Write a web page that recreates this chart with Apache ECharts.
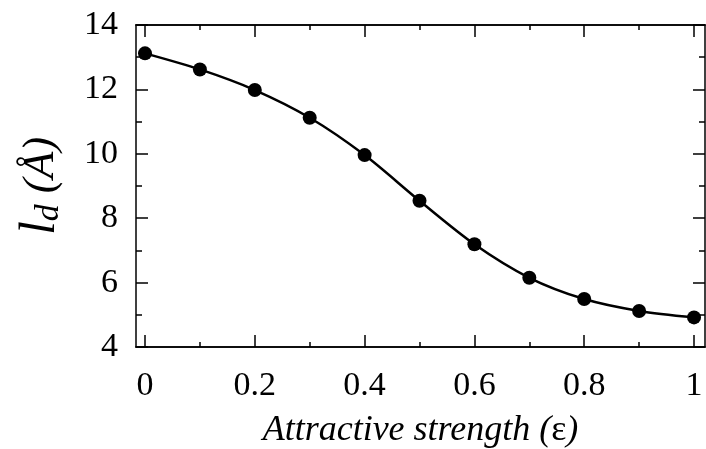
<!DOCTYPE html>
<html>
<head>
<meta charset="utf-8">
<script src="https://cdn.jsdelivr.net/npm/echarts@6/dist/echarts.min.js"></script>
<style>
  html, body { margin: 0; padding: 0; background: #fff; }
  #main { width: 706px; height: 449px; }
</style>
</head>
<body>
<div id="main"></div>
<script>
// attractive strength (x) and l_d in Angstrom (y)
var strength = [0, 0.1, 0.2, 0.3, 0.4, 0.5, 0.6, 0.7, 0.8, 0.9, 1.0];
var ld = [13.12, 12.62, 11.98, 11.12, 9.96, 8.54, 7.19, 6.15, 5.49, 5.12, 4.92];
var xMajor = [0, 0.2, 0.4, 0.6, 0.8, 1];
var xMinor = [0.1, 0.3, 0.5, 0.7, 0.9];

var points = [];
for (var i = 0; i < strength.length; i++) {
    points.push([strength[i], ld[i]]);
}

var font = '"Liberation Serif", "DejaVu Serif", serif';
var xMin = -0.0164, xMax = 1.02;

function xAx(pos, ticks, len, show) {
    return {
        type: 'value', position: pos, min: xMin, max: xMax,
        axisLine: { show: true, onZero: false, lineStyle: { color: '#000', width: 1.5 } },
        axisTick: { show: true, inside: true, length: len, customValues: ticks, lineStyle: { color: '#000', width: 1.5 } },
        axisLabel: show ? {
            customValues: xMajor, margin: 22, color: '#000', fontFamily: font, fontSize: 34,
            formatter: function (v) { return String(+v.toFixed(1)); }
        } : { show: false },
        splitLine: { show: false }
    };
}

function yAx(pos, show) {
    return {
        type: 'value', position: pos, min: 4, max: 14, interval: 2,
        axisLine: { show: true, onZero: false, lineStyle: { color: '#000', width: 1.5 } },
        axisTick: { show: true, inside: true, length: 12, lineStyle: { color: '#000', width: 1.5 } },
        minorTick: { show: true, splitNumber: 2, length: 6, lineStyle: { color: '#000', width: 1.5 } },
        axisLabel: show ? { margin: 18, color: '#000', fontFamily: font, fontSize: 34 } : { show: false },
        splitLine: { show: false }
    };
}

var myChart = echarts.init(document.getElementById('main'));
var xBottom = xAx('bottom', xMajor, 12, true);
xBottom.name = '{i|Attractive strength (}{e|\u03b5}{i|)}';
xBottom.nameLocation = 'middle';
xBottom.nameGap = 66;
xBottom.nameTextStyle = {
    color: '#000', fontFamily: font, fontStyle: 'italic', fontSize: 36,
    rich: {
        i: { fontFamily: font, fontStyle: 'italic', fontSize: 36, color: '#000' },
        e: { fontFamily: font, fontStyle: 'normal', fontSize: 36, color: '#000' }
    }
};

var yLeft = yAx('left', true);
yLeft.name = '{l|l}{d|d}{p| (\u00c5)}';
yLeft.nameLocation = 'middle';
yLeft.nameRotate = 90;
yLeft.nameGap = 70;
yLeft.nameTextStyle = {
    color: '#000', fontFamily: font, fontStyle: 'italic',
    rich: {
        l: { fontFamily: font, fontStyle: 'italic', fontSize: 50, color: '#000' },
        d: { fontFamily: font, fontStyle: 'italic', fontSize: 34, color: '#000', verticalAlign: 'bottom', padding: [16, 0, 0, 0] },
        p: { fontFamily: font, fontStyle: 'italic', fontSize: 44, color: '#000' }
    }
};

var option = {
    animation: false,
    backgroundColor: '#fff',
    grid: { left: 136, right: 1, top: 25, bottom: 102, containLabel: false, outerBoundsMode: 'none' },
    xAxis: [
        xBottom,
        xAx('bottom', xMinor, 5, false),
        xAx('top', xMajor, 12, false),
        xAx('top', xMinor, 5, false)
    ],
    yAxis: [yLeft, yAx('right', false)],
    series: [{
        type: 'line',
        data: points,
        smooth: 0.3,
        symbol: 'circle',
        symbolSize: 14,
        lineStyle: { color: '#000', width: 2.5 },
        itemStyle: { color: '#000' }
    }]
};
myChart.setOption(option);
</script>
</body>
</html>
